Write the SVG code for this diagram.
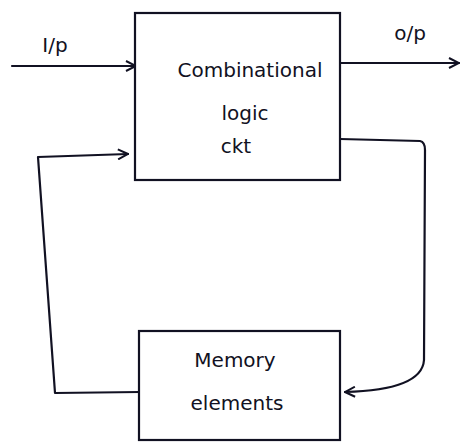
<svg xmlns="http://www.w3.org/2000/svg" width="462" height="443" viewBox="0 0 462 443">
<defs>
<marker id="open" viewBox="0 0 12 12" refX="11" refY="6" markerWidth="12" markerHeight="12" markerUnits="userSpaceOnUse" orient="auto">
<path d="M1,1 L11,6 L1,11" fill="none" stroke="#111122" stroke-width="2"/>
</marker>
</defs>
<style>
.box{fill:#fff;stroke:#111122;stroke-width:2.2}
.line{fill:none;stroke:#111122;stroke-width:2.2;stroke-linecap:round;stroke-linejoin:round}
.t{font-family:"DejaVu Sans","Liberation Sans",sans-serif;font-size:20px;fill:#111122;text-anchor:middle}
</style>
<rect width="462" height="443" fill="#fff"/>
<g id="connectors">
<path class="line" d="M12,66 L136,66" marker-end="url(#open)"/>
<path class="line" d="M340,63 L459,63" marker-end="url(#open)"/>
<path class="line" d="M340,139 L420,141 Q425,142 425,150 L424,360 Q422,390 345,392" marker-end="url(#open)"/>
<path class="line" d="M140,392 L55,393 L38,157 L128,154" marker-end="url(#open)"/>
</g>
<g id="comb">
<rect class="box" x="135" y="13" width="205" height="167"/>
<text class="t" x="250" y="77">Combinational</text>
<text class="t" x="245" y="120">logic</text>
<text class="t" x="236" y="153">ckt</text>
</g>
<g id="mem">
<rect class="box" x="139" y="331" width="201" height="109"/>
<text class="t" x="235" y="367">Memory</text>
<text class="t" x="237" y="410">elements</text>
</g>
<g id="labels">
<text class="t" x="55" y="52">I/p</text>
<text class="t" x="410" y="40">o/p</text>
</g>
</svg>
